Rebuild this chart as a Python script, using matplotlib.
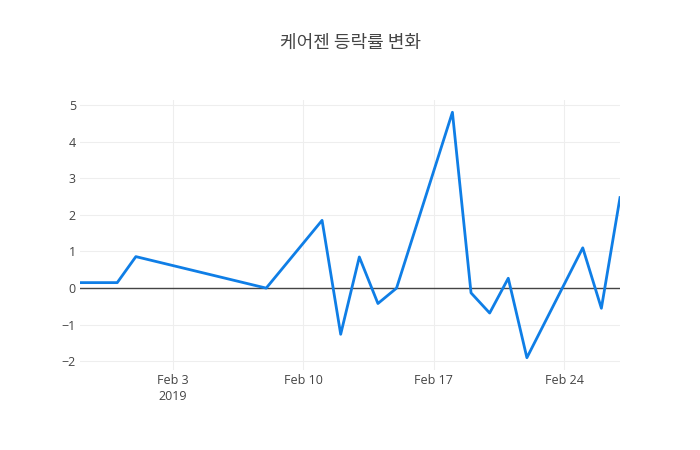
import numpy as np
import pandas as pd
import matplotlib
matplotlib.use("Agg")
import matplotlib.pyplot as plt
import matplotlib.dates as mdates

plt.rcParams['font.family'] = ['Noto Sans CJK KR', 'Open Sans', 'DejaVu Sans']

# data
dates = pd.to_datetime([
    "2019-01-29", "2019-01-31", "2019-02-01", "2019-02-08", "2019-02-11",
    "2019-02-12", "2019-02-13", "2019-02-14", "2019-02-15", "2019-02-18",
    "2019-02-19", "2019-02-20", "2019-02-21", "2019-02-22", "2019-02-25",
    "2019-02-26", "2019-02-27",
])
change = [0.15, 0.15, 0.86, 0.0, 1.85,
          -1.26, 0.85, -0.42, 0.0, 4.8,
          -0.13, -0.68, 0.27, -1.9, 1.1,
          -0.55, 2.47]

title = "케어젠 등락률 변화"
tick_dates = pd.to_datetime(["2019-02-03", "2019-02-10", "2019-02-17", "2019-02-24"])
tick_labels = ["Feb 3\n2019", "Feb 10", "Feb 17", "Feb 24"]
y_ticks = [-2, -1, 0, 1, 2, 3, 4, 5]

fig = plt.figure(figsize=(7, 4.5), dpi=100)
ax = fig.add_axes([80 / 700, 80 / 450, 540 / 700, 270 / 450])

ax.plot(dates, change, color='#0f7ee6', lw=2, zorder=3)
ax.axhline(0, color='#444444', lw=1, zorder=2)

# plotly-like autorange padding
lo, hi = min(change), max(change)
pad = (hi - lo) * 0.05
ax.set_ylim(lo - pad, hi + pad)
ax.set_xlim(dates[0], dates[-1])

ax.set_yticks(y_ticks)
ax.set_yticklabels(["\u22122" if v == -2 else "\u22121" if v == -1 else str(v) for v in y_ticks],
                   family=['Open Sans', 'DejaVu Sans'])
ax.set_xticks(tick_dates)
ax.set_xticklabels(tick_labels, family=['Open Sans', 'DejaVu Sans'], linespacing=1.3)

ax.grid(True, color='#eeeeee', lw=0.8, zorder=0)
for s in ax.spines.values():
    s.set_visible(False)
ax.tick_params(length=0, colors='#444444', labelsize=9)
ax.tick_params(axis='x', pad=3)
ax.tick_params(axis='y', pad=3)

fig.text(0.5, 1 - 43 / 450, title, ha='center', va='center', fontsize=13, color='#444444')

fig.savefig("out.png", dpi=100)
